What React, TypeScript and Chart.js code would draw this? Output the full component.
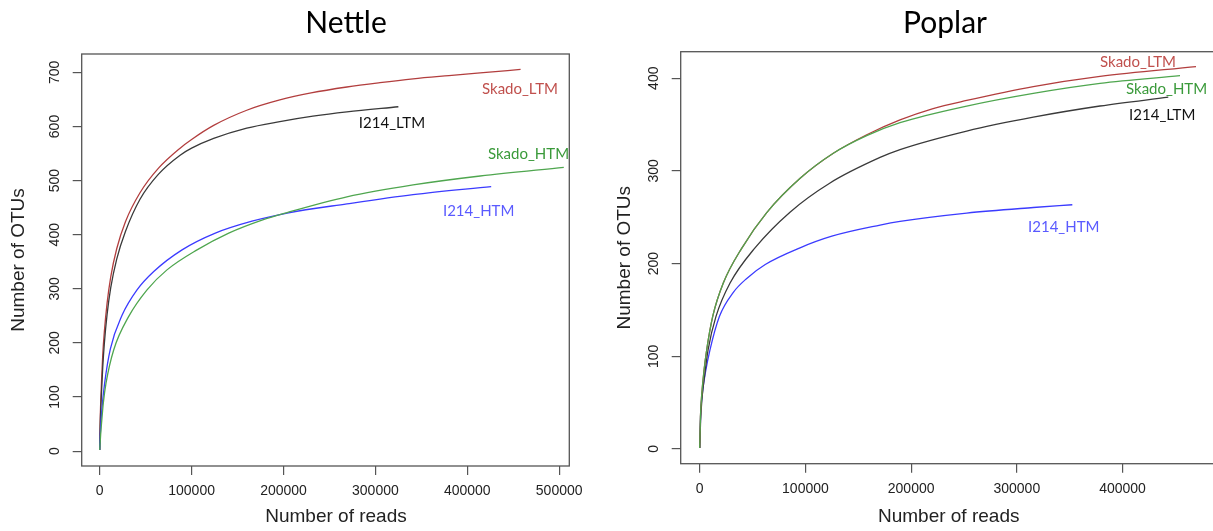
import React, { useEffect, useRef } from "react";
import { Chart, registerables } from "chart.js";

Chart.register(...registerables);

const PAGE_W = 1213;
const PAGE_H = 531;

// ---------------- Nettle ----------------
const nettleXTicks = [0, 100000, 200000, 300000, 400000, 500000];
const nettleYTicks = [0, 100, 200, 300, 400, 500, 600, 700];

const nettleSkadoLTMReads = [0, 500, 1000, 2000, 3300, 5000, 8000, 12000, 18500, 28000, 44000, 64000, 87500, 100000, 124000, 160000, 196000, 230000, 269000, 305000, 341000, 380000, 414000, 458000];
const nettleSkadoLTMOtus = [2, 55, 85, 130, 178, 220, 273, 322, 374, 424, 478, 523, 560, 576, 602, 630, 649, 662, 673, 681, 688, 694, 699, 705.5];

const nettleI214LTMReads = [0, 500, 1000, 2000, 3300, 5000, 8000, 12000, 18500, 28000, 44000, 64000, 87500, 100000, 124000, 160000, 196000, 232000, 269000, 325000];
const nettleI214LTMOtus = [2, 45, 72, 110, 155, 198, 252, 302, 355, 406, 466, 512, 547, 560, 578, 597, 609, 619, 627, 636.5];

const nettleSkadoHTMReads = [0, 1000, 2500, 4000, 6900, 15200, 31600, 51500, 73200, 105900, 140400, 176600, 204000, 269000, 341000, 414000, 505000];
const nettleSkadoHTMOtus = [2, 30, 62, 90, 126, 187, 249, 298, 335, 372, 403, 427, 441, 470, 492, 508.5, 524.5];

const nettleI214HTMReads = [0, 1000, 2500, 5400, 11600, 24300, 40600, 58800, 89600, 125800, 165700, 204000, 269000, 341000, 426000];
const nettleI214HTMOtus = [2, 45, 80, 126, 189, 251, 298, 332, 372, 403, 425, 440, 457, 474, 489];

// ---------------- Poplar ----------------
const poplarXTicks = [0, 100000, 200000, 300000, 400000];
const poplarYTicks = [0, 100, 200, 300, 400];

const poplarSkadoLTMReads = [0, 700, 2000, 4100, 6600, 12300, 22300, 39700, 63400, 95000, 126400, 158000, 189500, 220000, 252600, 315600, 378700, 469500];
const poplarSkadoLTMOtus = [1, 35, 60, 85, 107, 143, 179, 216.5, 255, 292, 319, 339, 355, 367, 376, 391, 402, 412.5];

const poplarSkadoHTMReads = [0, 700, 2000, 4100, 6600, 12300, 22300, 39700, 63400, 95000, 126400, 158000, 189500, 252600, 315600, 378700, 454400];
const poplarSkadoHTMOtus = [1, 35, 60, 85, 107, 143, 179, 216.5, 255, 292, 319, 338, 352, 370, 383.7, 394.5, 402.7];

const poplarI214LTMReads = [0, 800, 2200, 4700, 7900, 15400, 28700, 52300, 85400, 123300, 170600, 189500, 252600, 315600, 378700, 443300];
const poplarI214LTMOtus = [1, 30, 55, 80, 107, 143, 179, 217, 255.5, 287, 314.5, 323, 343, 358, 370, 379.5];

const poplarI214HTMReads = [0, 800, 2500, 5300, 9700, 18600, 31800, 44500, 62000, 94900, 125000, 170600, 189500, 252600, 315600, 352500];
const poplarI214HTMOtus = [1, 35, 60, 82, 107, 143, 169, 184, 199, 217, 229.5, 241.5, 245.5, 254.5, 260.5, 263.5];

const COLORS = {
  skadoLTMLine: "#b23e3e",
  i214LTMLine: "#3a3a3a",
  skadoHTMLine: "#4fa64f",
  i214HTMLine: "#3b3bff",
  skadoLTMText: "#c0504d",
  i214LTMText: "#111111",
  skadoHTMText: "#3a9a3a",
  i214HTMText: "#5a5aff",
};

type Series = { reads: number[]; otus: number[]; color: string };
type Label = { text: string; color: string; reads: number; otus: number };

type PanelCfg = {
  title: string;
  titleX: number;
  xTitleX: number;
  left: number;
  width: number;
  series: Series[];
  labels: Label[];
  xTicks: number[];
  yTicks: number[];
  xMin: number;
  xMax: number;
  yMin: number;
  yMax: number;
  areaLeft: number;
  areaTop: number;
  areaBottom: number;
  padRight: number;
  yTitlePad: number;
  yTickPad: number;
  xTickPad: number;
};

const nettleCfg: PanelCfg = {
  title: "Nettle",
  titleX: 346,
  xTitleX: 336,
  left: 0,
  width: 600,
  series: [
    { reads: nettleSkadoHTMReads, otus: nettleSkadoHTMOtus, color: COLORS.skadoHTMLine },
    { reads: nettleI214HTMReads, otus: nettleI214HTMOtus, color: COLORS.i214HTMLine },
    { reads: nettleI214LTMReads, otus: nettleI214LTMOtus, color: COLORS.i214LTMLine },
    { reads: nettleSkadoLTMReads, otus: nettleSkadoLTMOtus, color: COLORS.skadoLTMLine },
  ],
  labels: [
    { text: "Skado_LTM", color: COLORS.skadoLTMText, reads: 416000, otus: 660 },
    { text: "I214_LTM", color: COLORS.i214LTMText, reads: 282000, otus: 598 },
    { text: "Skado_HTM", color: COLORS.skadoHTMText, reads: 422500, otus: 540 },
    { text: "I214_HTM", color: COLORS.i214HTMText, reads: 373500, otus: 435 },
  ],
  xTicks: nettleXTicks,
  yTicks: nettleYTicks,
  xMin: -19600,
  xMax: 511000,
  yMin: -27.5,
  yMax: 734,
  areaLeft: 81.7,
  areaTop: 54,
  areaBottom: 466,
  padRight: 30.7,
  yTitlePad: 7.8,
  yTickPad: 6,
  xTickPad: 7.6,
};

const poplarCfg: PanelCfg = {
  title: "Poplar",
  titleX: 345,
  xTitleX: 348.7,
  left: 600,
  width: 640,
  series: [
    { reads: poplarSkadoHTMReads, otus: poplarSkadoHTMOtus, color: COLORS.skadoHTMLine },
    { reads: poplarSkadoLTMReads, otus: poplarSkadoLTMOtus, color: COLORS.skadoLTMLine },
    { reads: poplarI214LTMReads, otus: poplarI214LTMOtus, color: COLORS.i214LTMLine },
    { reads: poplarI214HTMReads, otus: poplarI214HTMOtus, color: COLORS.i214HTMLine },
  ],
  labels: [
    { text: "Skado_LTM", color: COLORS.skadoLTMText, reads: 378700, otus: 412.6 },
    { text: "Skado_HTM", color: COLORS.skadoHTMText, reads: 403300, otus: 383.5 },
    { text: "I214_LTM", color: COLORS.i214LTMText, reads: 406200, otus: 355.4 },
    { text: "I214_HTM", color: COLORS.i214HTMText, reads: 310600, otus: 234 },
  ],
  xTicks: poplarXTicks,
  yTicks: poplarYTicks,
  xMin: -18000,
  xMax: 489000,
  yMin: -15.9,
  yMax: 428.6,
  areaLeft: 80.7,
  areaTop: 51.7,
  areaBottom: 463.7,
  padRight: 23.4,
  yTitlePad: 13.6,
  yTickPad: 5.8,
  xTickPad: 8.5,
};

const AXIS_FONT = "'Liberation Sans', Arial, sans-serif";
const NOTE_FONT = "Lato, 'Open Sans', sans-serif";

function Panel({ cfg }: { cfg: PanelCfg }) {
  const ref = useRef<HTMLCanvasElement>(null);

  useEffect(() => {
    const canvas = ref.current;
    if (!canvas) return;

    const boxPlugin = {
      id: "panelBox",
      afterDatasetsDraw(chart: any) {
        const { ctx, chartArea: a } = chart;
        ctx.save();
        ctx.strokeStyle = "#555555";
        ctx.lineWidth = 1.3;
        ctx.strokeRect(a.left, a.top, a.right - a.left, a.bottom - a.top);
        ctx.restore();
      },
    };

    const notesPlugin = {
      id: "panelNotes",
      afterDraw(chart: any) {
        const { ctx } = chart;
        const xs = chart.scales.x;
        const ys = chart.scales.y;
        ctx.save();
        // panel title
        ctx.fillStyle = "#000";
        ctx.font = `30px ${NOTE_FONT}`;
        ctx.textAlign = "center";
        ctx.textBaseline = "alphabetic";
        ctx.fillText(cfg.title, cfg.titleX, 33);
        // x axis title
        ctx.fillStyle = "#222";
        ctx.font = `19px ${AXIS_FONT}`;
        ctx.textBaseline = "middle";
        ctx.fillText("Number of reads", cfg.xTitleX, 516.5);
        // series labels
        ctx.font = `15px ${NOTE_FONT}`;
        ctx.textAlign = "left";
        ctx.textBaseline = "alphabetic";
        for (const l of cfg.labels) {
          ctx.fillStyle = l.color;
          ctx.fillText(l.text, xs.getPixelForValue(l.reads), ys.getPixelForValue(l.otus));
        }
        ctx.restore();
      },
    };

    const chart = new Chart(canvas, {
      type: "line",
      data: {
        datasets: cfg.series.map((s) => ({
          data: s.reads.map((r, i) => ({ x: r, y: s.otus[i] })),
          borderColor: s.color,
          borderWidth: 1.3,
          pointRadius: 0,
          fill: false,
          cubicInterpolationMode: "monotone" as const,
        })),
      },
      options: {
        responsive: false,
        animation: false,
        layout: {
          padding: { left: 0, right: cfg.padRight, top: cfg.areaTop, bottom: 0 },
        },
        plugins: {
          legend: { display: false },
          tooltip: { enabled: false },
          title: { display: false },
        },
        scales: {
          x: {
            type: "linear",
            min: cfg.xMin,
            max: cfg.xMax,
            afterBuildTicks: (s: any) => {
              s.ticks = cfg.xTicks.map((v) => ({ value: v }));
            },
            afterFit: (s: any) => {
              s.height = PAGE_H - cfg.areaBottom;
            },
            grid: {
              drawOnChartArea: false,
              drawTicks: true,
              tickLength: 9,
              color: "#555555",
              lineWidth: 1.2,
            },
            border: { display: false },
            ticks: {
              autoSkip: false,
              maxRotation: 0,
              minRotation: 0,
              padding: cfg.xTickPad,
              color: "#222",
              font: { family: AXIS_FONT, size: 14 },
              callback: (v: any) => String(v),
            },
            title: { display: false },
          },
          y: {
            type: "linear",
            min: cfg.yMin,
            max: cfg.yMax,
            afterBuildTicks: (s: any) => {
              s.ticks = cfg.yTicks.map((v) => ({ value: v }));
            },
            afterFit: (s: any) => {
              s.width = cfg.areaLeft;
            },
            grid: {
              drawOnChartArea: false,
              drawTicks: true,
              tickLength: 9,
              color: "#555555",
              lineWidth: 1.2,
            },
            border: { display: false },
            ticks: {
              autoSkip: false,
              minRotation: 90,
              maxRotation: 90,
              crossAlign: "center",
              padding: cfg.yTickPad,
              color: "#222",
              font: { family: AXIS_FONT, size: 14 },
              callback: (v: any) => String(v),
            },
            title: {
              display: true,
              text: "Number of OTUs",
              color: "#222",
              font: { family: AXIS_FONT, size: 19 },
              padding: { top: cfg.yTitlePad, bottom: 0 },
            },
          },
        },
      },
      plugins: [boxPlugin, notesPlugin],
    } as any);

    return () => chart.destroy();
  }, [cfg]);

  return (
    <canvas
      ref={ref}
      width={cfg.width}
      height={PAGE_H}
      style={{ position: "absolute", left: cfg.left, top: 0, width: cfg.width, height: PAGE_H }}
    />
  );
}

export default function App() {
  return (
    <div
      style={{
        position: "fixed",
        left: 0,
        top: 0,
        width: PAGE_W,
        height: PAGE_H,
        overflow: "hidden",
        background: "#ffffff",
      }}
    >
      <Panel cfg={nettleCfg} />
      <Panel cfg={poplarCfg} />
    </div>
  );
}
